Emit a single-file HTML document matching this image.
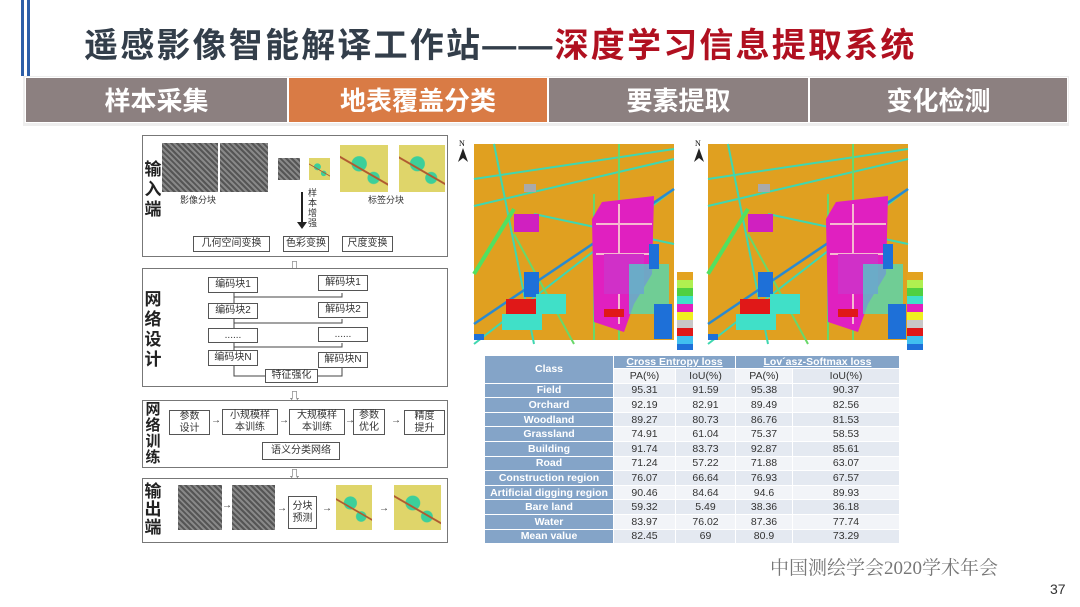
<!DOCTYPE html>
<html><head><meta charset="utf-8"><style>
*{margin:0;padding:0;box-sizing:border-box}
body{width:1080px;height:607px;background:#fff;position:relative;overflow:hidden;font-family:"Liberation Sans","Noto Sans CJK SC",sans-serif}
.a{position:absolute}
.tab{position:absolute;top:77px;height:46px;background:#8c8080;color:#fff;font-size:26px;font-weight:bold;text-align:center;line-height:46px;border:1px solid #fff}
.box{position:absolute;border:1.5px solid #777;background:#fff}
.sb{position:absolute;border:1px solid #555;background:#fff;font-size:10px;text-align:center;color:#333;line-height:1.2;display:flex;align-items:center;justify-content:center}
.vl{position:absolute;font-size:17px;font-weight:bold;color:#222;width:20px;line-height:20px;text-align:center}
.img{position:absolute;background:#6f6f6b;background-image:repeating-linear-gradient(45deg,#555 0 2px,#888 2px 4px)}
.lab{position:absolute;background:#dfd56a;background-image:linear-gradient(30deg,transparent 45%,#b05a30 46% 48%,transparent 49%),radial-gradient(circle at 40% 40%,#3ccf9a 0 18%,transparent 20%),radial-gradient(circle at 70% 70%,#3ccf9a 0 12%,transparent 14%)}
.arr{position:absolute;font-size:10px;color:#333}
table{border-collapse:collapse;font-size:10.5px}
td{height:14.6px;text-align:center;color:#333;border:1px solid #fff}
td.c{background:#84a4c8;color:#fff;font-weight:bold}
tr:nth-child(odd) td.v{background:#e4e9f1}
tr:nth-child(even) td.v{background:#f2f4f8}
</style></head><body>
<div class="a" style="left:21px;top:0;width:3px;height:76px;background:#2d5fa8"></div>
<div class="a" style="left:27px;top:0;width:3px;height:76px;background:#2d5fa8"></div>
<div class="a" style="left:84px;top:24px;font-size:34px;font-weight:bold;color:#333e4a;white-space:nowrap;letter-spacing:2.2px;line-height:44px">遥感影像智能解译工作站——<span style="color:#b01020">深度学习信息提取系统</span></div>
<div class="a" style="left:23px;top:76px;width:1046px;height:50px;background:#eee"></div>
<div class="tab" style="left:25px;width:263px">样本采集</div>
<div class="tab" style="left:288px;width:260px;background:#d97b45">地表覆盖分类</div>
<div class="tab" style="left:548px;width:261px">要素提取</div>
<div class="tab" style="left:809px;width:259px">变化检测</div>

<div class="box" style="left:142px;top:135px;width:306px;height:122px"></div>
<div class="vl" style="left:143px;top:160px">输入端</div>
<div class="img" style="left:162px;top:143px;width:56px;height:49px"></div>
<div class="img" style="left:220px;top:143px;width:48px;height:49px"></div>
<div class="img" style="left:278px;top:158px;width:22px;height:22px"></div>
<div class="lab" style="left:309px;top:158px;width:21px;height:22px"></div>
<div class="lab" style="left:340px;top:145px;width:48px;height:47px"></div>
<div class="lab" style="left:399px;top:145px;width:46px;height:47px"></div>
<div class="arr" style="left:180px;top:193px;font-size:9px">影像分块</div>
<div class="arr" style="left:368px;top:193px;font-size:9px">标签分块</div>
<div class="a" style="left:301px;top:192px;width:2px;height:32px;background:#222"></div>
<div class="a" style="left:297px;top:222px;border-left:5px solid transparent;border-right:5px solid transparent;border-top:7px solid #222"></div>
<div class="a" style="left:308px;top:188px;font-size:9px;width:10px;line-height:10px;color:#333">样本增强</div>
<div class="sb" style="left:193px;top:236px;width:77px;height:16px">几何空间变换</div>
<div class="sb" style="left:283px;top:236px;width:46px;height:16px;white-space:nowrap">色彩变换</div>
<div class="sb" style="left:342px;top:236px;width:51px;height:16px">尺度变换</div>
<div class="a" style="left:288px;top:257px;font-size:13px;color:#555">⇩</div>

<div class="box" style="left:142px;top:268px;width:306px;height:119px"></div>
<div class="vl" style="left:143px;top:290px">网络设计</div>
<div class="sb" style="left:208px;top:277px;width:50px;height:16px">编码块1</div>
<div class="sb" style="left:208px;top:303px;width:50px;height:16px">编码块2</div>
<div class="sb" style="left:208px;top:328px;width:50px;height:15px">......</div>
<div class="sb" style="left:208px;top:350px;width:50px;height:16px">编码块N</div>
<div class="sb" style="left:318px;top:275px;width:50px;height:16px">解码块1</div>
<div class="sb" style="left:318px;top:302px;width:50px;height:16px">解码块2</div>
<div class="sb" style="left:318px;top:327px;width:50px;height:15px">......</div>
<div class="sb" style="left:318px;top:352px;width:50px;height:16px">解码块N</div>
<div class="sb" style="left:265px;top:369px;width:53px;height:14px">特征强化</div>
<svg class="a" style="left:142px;top:268px" width="306" height="119"><g stroke="#444" fill="none" stroke-width="1">
<path d="M92 25V35M92 51V60M92 75V82M92 98V108H123M176 108H200V100M92 29H200V25M92 55H200V51M92 79H200V75"/></g></svg>
<div class="a" style="left:288px;top:387px;font-size:13px;color:#555">⇩</div>

<div class="box" style="left:142px;top:400px;width:306px;height:68px"></div>
<div class="vl" style="left:143px;top:402px;line-height:16px;font-size:15px">网络训练</div>
<div class="sb" style="left:169px;top:410px;width:41px;height:25px">参数<br>设计</div>
<div class="sb" style="left:222px;top:409px;width:56px;height:26px;border-width:1.5px">小规模样<br>本训练</div>
<div class="sb" style="left:289px;top:409px;width:56px;height:26px;border-width:1.5px">大规模样<br>本训练</div>
<div class="sb" style="left:353px;top:409px;width:32px;height:26px;border-width:1.5px">参数<br>优化</div>
<div class="sb" style="left:404px;top:410px;width:41px;height:25px">精度<br>提升</div>
<div class="sb" style="left:262px;top:442px;width:78px;height:18px">语义分类网络</div>
<div class="arr" style="left:211px;top:415px">→</div><div class="arr" style="left:279px;top:415px">→</div><div class="arr" style="left:345px;top:415px">→</div><div class="arr" style="left:391px;top:415px">→</div>
<div class="a" style="left:288px;top:465px;font-size:13px;color:#555">⇩</div>

<div class="box" style="left:142px;top:478px;width:306px;height:65px"></div>
<div class="vl" style="left:143px;top:483px;line-height:18px">输出端</div>
<div class="img" style="left:178px;top:485px;width:44px;height:45px"></div>
<div class="img" style="left:232px;top:485px;width:43px;height:45px"></div>
<div class="sb" style="left:288px;top:496px;width:29px;height:33px">分块<br>预测</div>
<div class="lab" style="left:336px;top:485px;width:36px;height:45px"></div>
<div class="lab" style="left:394px;top:485px;width:47px;height:45px"></div>
<div class="arr" style="left:222px;top:500px">→</div><div class="arr" style="left:277px;top:503px">→</div><div class="arr" style="left:322px;top:503px">→</div><div class="arr" style="left:379px;top:503px">→</div>

<svg class="a" style="left:455px;top:130px" width="470" height="220">
<defs><g id="m">
<rect width="200" height="196" fill="#e0a020"/>
<g stroke="#3fd7b0" stroke-width="2" fill="none">
<path d="M0 35L200 5M0 62L200 15M20 0L60 200M60 70L200 100M0 200L200 45"/>
<path d="M145 0V196M120 50V196M40 90L100 200" stroke="#69d86a"/></g>
<path d="M0 130L40 65" stroke="#52e060" stroke-width="4"/>
<path d="M0 180L200 45" stroke="#2a8ad0" stroke-width="2.5"/>
<path d="M128 58L180 52L178 130L160 160L150 188L120 178L118 75Z" fill="#e020c0"/>
<path d="M122 80H178M122 110H178M145 60V180" stroke="#f5b8d0" stroke-width="2"/>
<rect x="130" y="110" width="40" height="40" fill="#d030c8"/>
<rect x="32" y="155" width="30" height="16" fill="#e01818"/>
<rect x="28" y="170" width="40" height="16" fill="#40e0c8"/>
<rect x="50" y="128" width="15" height="25" fill="#1e70d8"/>
<rect x="62" y="150" width="30" height="20" fill="#40e0c8"/>
<rect x="40" y="70" width="25" height="18" fill="#d020c0"/>
<rect x="155" y="120" width="40" height="50" fill="#40e0c8" opacity=".7"/>
<rect x="175" y="100" width="10" height="25" fill="#1e70d8"/>
<rect x="180" y="160" width="18" height="35" fill="#1e70d8"/>
<rect x="0" y="190" width="10" height="6" fill="#1e70d8"/>
<rect x="130" y="165" width="20" height="8" fill="#e01818"/>
<rect x="50" y="40" width="12" height="8" fill="#aaa"/>
</g>
<g id="lg"><rect width="16" height="8" fill="#e3a320"/><rect y="8" width="16" height="8" fill="#b0f050"/><rect y="16" width="16" height="8" fill="#50d040"/><rect y="24" width="16" height="8" fill="#40e0c8"/><rect y="32" width="16" height="8" fill="#e020c0"/><rect y="40" width="16" height="8" fill="#f0f020"/><rect y="48" width="16" height="8" fill="#c8c8c8"/><rect y="56" width="16" height="8" fill="#e01818"/><rect y="64" width="16" height="8" fill="#40c0f0"/><rect y="72" width="16" height="8" fill="#1e70d8"/></g>
</defs>
<use href="#m" x="19" y="14"/><use href="#m" x="253" y="14"/>
<use href="#lg" x="222" y="142"/><use href="#lg" x="452" y="142"/>
<text x="4" y="16" font-size="8" font-family="Liberation Serif">N</text><path d="M8 18L3 32L8 28L13 32Z" fill="#222"/>
<text x="240" y="16" font-size="8" font-family="Liberation Serif">N</text><path d="M244 18L239 32L244 28L249 32Z" fill="#222"/>
</svg>

<table class="a" style="left:484px;top:355px;width:416px">
<tr><td class="c" rowspan="2" style="width:129px">Class</td><td class="c" colspan="2" style="height:13px;text-decoration:underline">Cross Entropy loss</td><td class="c" colspan="2" style="height:13px;text-decoration:underline">Lov´asz-Softmax loss</td></tr>
<tr><td class="v" style="width:62px;background:#f2f4f8">PA(%)</td><td class="v" style="width:60px;background:#e4e9f1">IoU(%)</td><td class="v" style="width:57px;background:#f2f4f8">PA(%)</td><td class="v" style="background:#e4e9f1">IoU(%)</td></tr>
<tr><td class="c">Field</td><td class="v">95.31</td><td class="v">91.59</td><td class="v">95.38</td><td class="v">90.37</td></tr>
<tr><td class="c">Orchard</td><td class="v">92.19</td><td class="v">82.91</td><td class="v">89.49</td><td class="v">82.56</td></tr>
<tr><td class="c">Woodland</td><td class="v">89.27</td><td class="v">80.73</td><td class="v">86.76</td><td class="v">81.53</td></tr>
<tr><td class="c">Grassland</td><td class="v">74.91</td><td class="v">61.04</td><td class="v">75.37</td><td class="v">58.53</td></tr>
<tr><td class="c">Building</td><td class="v">91.74</td><td class="v">83.73</td><td class="v">92.87</td><td class="v">85.61</td></tr>
<tr><td class="c">Road</td><td class="v">71.24</td><td class="v">57.22</td><td class="v">71.88</td><td class="v">63.07</td></tr>
<tr><td class="c">Construction region</td><td class="v">76.07</td><td class="v">66.64</td><td class="v">76.93</td><td class="v">67.57</td></tr>
<tr><td class="c">Artificial digging region</td><td class="v">90.46</td><td class="v">84.64</td><td class="v">94.6</td><td class="v">89.93</td></tr>
<tr><td class="c">Bare land</td><td class="v">59.32</td><td class="v">5.49</td><td class="v">38.36</td><td class="v">36.18</td></tr>
<tr><td class="c">Water</td><td class="v">83.97</td><td class="v">76.02</td><td class="v">87.36</td><td class="v">77.74</td></tr>
<tr><td class="c">Mean value</td><td class="v">82.45</td><td class="v">69</td><td class="v">80.9</td><td class="v">73.29</td></tr>
</table>

<div class="a" style="left:770px;top:553px;font-size:19px;color:#777;font-family:'Liberation Serif','Noto Serif CJK SC',serif">中国测绘学会2020学术年会</div>
<div class="a" style="left:1050px;top:581px;font-size:14px;color:#333">37</div>
</body></html>
